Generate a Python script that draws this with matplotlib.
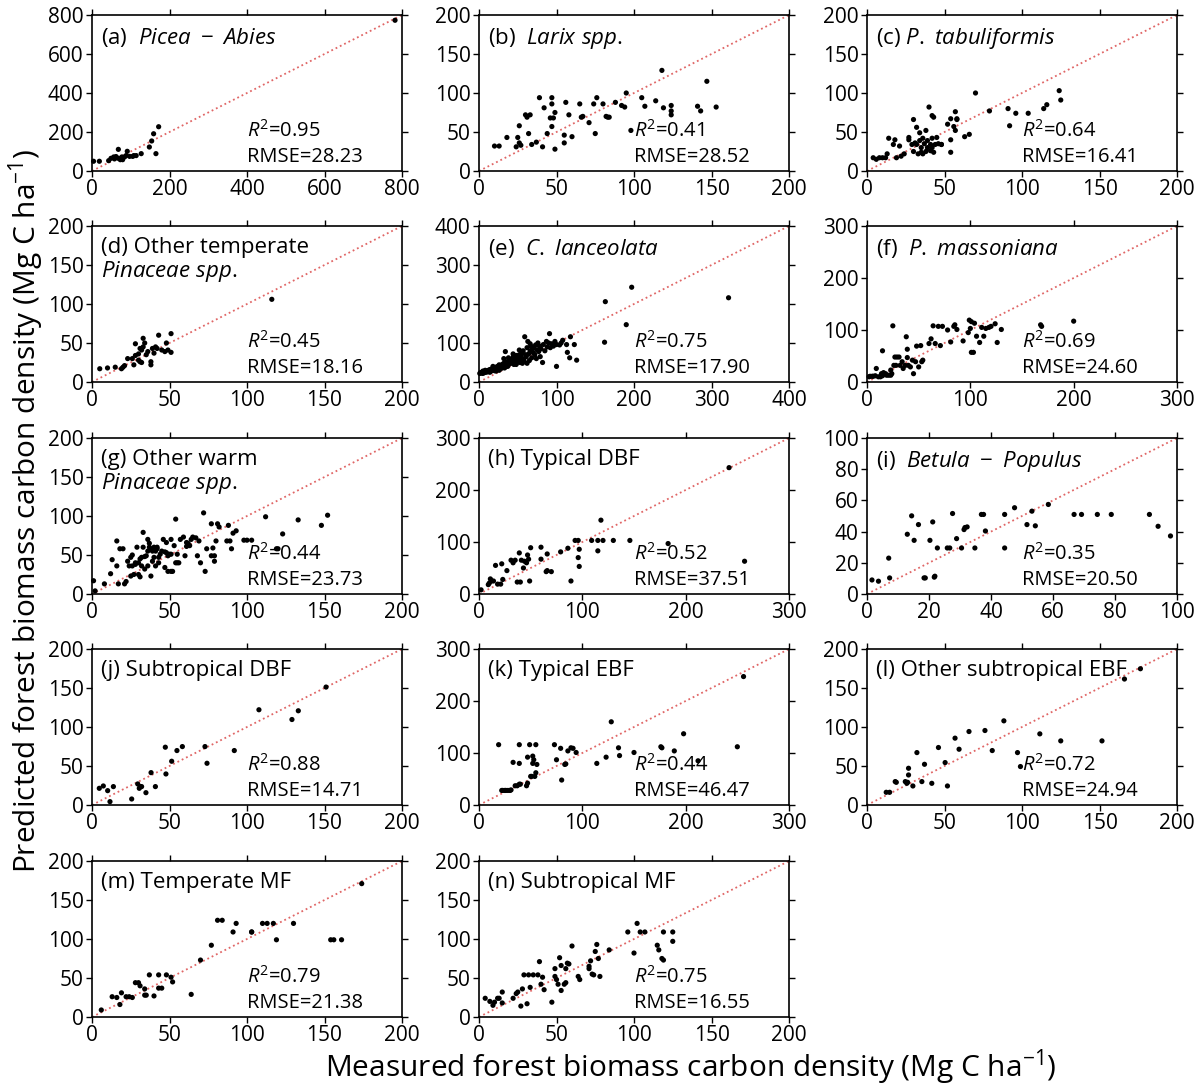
import numpy as np
import matplotlib.pyplot as plt

plt.rcParams['font.family'] = 'Open Sans'
plt.rcParams['mathtext.fontset'] = 'custom'
plt.rcParams['mathtext.rm'] = 'Open Sans'
plt.rcParams['mathtext.it'] = 'Open Sans:italic'

# --- (a) Picea - Abies ---
a_x = [4, 19, 43, 49, 56, 62, 68, 68, 73, 77, 84, 88, 91, 105, 108, 114, 127, 148, 154, 159, 165, 172, 58, 79, 97, 782]
a_y = [50, 50, 53, 65, 72, 74, 65, 111, 58, 72, 72, 79, 101, 75, 79, 79, 89, 123, 154, 191, 89, 227, 62, 58, 75, 773]

# --- (b) Larix spp. ---
b_x = [10, 13, 18, 24, 25, 26, 27, 26, 30, 31, 33, 32, 34, 37, 39, 41, 42, 44, 46, 47, 47, 47, 48, 49, 49,
       55, 55, 56, 58, 60, 65, 66, 67, 71, 74, 75, 76, 80, 82, 83, 84, 88, 92, 94, 95, 98, 105, 107, 114,
       118, 119, 124, 124, 124, 141, 143, 147, 153]
b_y = [32, 32, 43, 31, 43, 36, 33, 58, 72, 69, 72, 48, 34, 37, 94, 31, 81, 48, 68, 86, 94, 57, 68, 28, 75,
       46, 36, 88, 72, 44, 86, 69, 70, 62, 86, 48, 94, 86, 70, 69, 69, 88, 84, 82, 100, 52, 94, 83, 90,
       129, 81, 84, 77, 72, 83, 77, 115, 82]

# --- (c) P. tabuliformis ---
c_x = [4, 6, 8, 10, 12, 13, 14, 17, 18, 19, 21, 22, 24, 27, 27, 29, 30, 30, 31, 32, 32, 33, 34, 34, 35, 35,
       36, 36, 37, 38, 38, 39, 39, 40, 41, 41, 42, 42, 42, 43, 43, 44, 45, 46, 48, 48, 52, 54, 54, 54, 56,
       57, 57, 58, 58, 63, 66, 70, 79, 91, 92, 96, 104, 114, 116, 124, 125]
c_y = [17, 15, 17, 17, 17, 22, 42, 34, 40, 17, 32, 19, 22, 43, 40, 34, 25, 66, 36, 56, 34, 22, 49, 39, 24, 30,
       42, 22, 35, 25, 52, 30, 39, 82, 34, 26, 30, 71, 42, 69, 24, 34, 43, 35, 34, 34, 60, 67, 24, 40, 57,
       76, 52, 66, 67, 44, 47, 100, 77, 80, 58, 74, 74, 80, 85, 103, 91]

# --- (d) Other temperate Pinaceae spp. ---
d_x = [5, 10, 15, 19, 20, 21, 23, 26, 27, 28, 28, 30, 30, 31, 31, 32, 32, 33, 33, 34, 35, 36, 38, 38, 39, 40,
       41, 42, 43, 45, 47, 48, 49, 51, 51, 116]
d_y = [17, 18, 19, 17, 19, 21, 30, 30, 22, 34, 49, 28, 36, 43, 26, 41, 25, 56, 45, 50, 35, 39, 22, 26, 43, 37,
       45, 43, 60, 41, 39, 50, 41, 62, 38, 106]

# --- (e) C. lanceolata ---
e_x = [1, 2, 3, 4, 5, 6, 7, 8, 9, 10, 5, 8,
       11, 12, 13, 14, 15, 16, 17, 18, 19, 20, 14, 18,
       21, 22, 23, 24, 25, 26, 27, 28, 29, 30, 22, 26,
       31, 32, 33, 34, 35, 36, 37, 38, 39, 40, 32, 36, 38,
       41, 42, 43, 44, 45, 46, 47, 48, 49, 50, 44, 48,
       51, 52, 53, 54, 55, 56, 57, 58, 59, 60, 52, 56,
       61, 62, 63, 64, 65, 66, 67, 68, 69, 70, 62, 66,
       71, 72, 73, 74, 75, 76, 77, 78, 79, 80, 82,
       83, 85, 87, 88, 90, 91, 92, 94, 96, 98, 100, 100, 104, 106,
       108, 113, 114, 117, 118, 123, 126, 162, 163, 190, 197, 322]
e_y = [22, 24, 23, 25, 22, 26, 24, 27, 25, 28, 28, 30,
       26, 30, 28, 32, 27, 33, 30, 35, 31, 29, 25, 40,
       34, 38, 32, 40, 36, 30, 42, 38, 35, 45, 28, 44,
       40, 48, 36, 78, 44, 52, 40, 50, 46, 55, 60, 42, 62,
       48, 58, 52, 64, 45, 60, 55, 68, 50, 62, 72, 45,
       58, 70, 50, 66, 75, 60, 80, 55, 116, 70, 82, 48,
       65, 88, 104, 72, 55, 80, 92, 62, 85, 75, 48, 98,
       88, 70, 95, 60, 82, 100, 78, 92, 65, 85, 50,
       96, 80, 104, 90, 100, 124, 88, 98, 92, 104, 40, 96, 95, 100,
       107, 96, 76, 62, 116, 96, 56, 102, 206, 147, 243, 216]

# --- (f) P. massoniana ---
f_x = [2, 3, 5, 6, 8, 9, 11, 13, 14, 15, 15, 16, 18, 19, 21, 23, 23, 24, 25, 26, 27, 28, 29, 31, 32, 34,
       35, 37, 38, 39, 39, 40, 42, 44, 45, 47, 48, 50, 52, 53, 54, 60, 62, 64, 66, 69, 71, 73, 78, 81,
       84, 85, 87, 93, 98, 99, 100, 101, 101, 103, 104, 106, 109, 111, 113, 115, 118, 120, 124, 126,
       130, 168, 169, 200]
f_y = [10, 11, 11, 11, 12, 26, 10, 10, 16, 12, 60, 18, 16, 13, 13, 23, 13, 16, 108, 32, 48, 32, 48, 48, 32,
       39, 26, 32, 87, 63, 47, 32, 29, 42, 16, 39, 69, 29, 70, 39, 42, 74, 83, 108, 74, 107, 70, 107,
       100, 77, 107, 110, 101, 79, 95, 119, 103, 57, 116, 57, 113, 88, 76, 105, 88, 103, 105, 107, 112,
       76, 101, 110, 107, 117]

# --- (g) Other warm Pinaceae spp. ---
g_x = [1, 2, 8, 12, 13, 16, 16, 17, 18, 20,
       21, 22, 23, 24, 25, 25, 26, 26, 27, 28,
       28, 29, 30, 30, 31, 31, 32, 32, 33, 33,
       34, 34, 35, 36, 36, 36, 37, 37, 38, 38,
       39, 39, 40, 40, 41, 41, 42, 42, 43, 43,
       44, 45, 46, 47, 47, 48, 48, 49, 49, 50,
       51, 51, 51, 52, 53, 54, 54, 55, 55, 56,
       57, 59, 60, 61, 61, 62, 63, 64, 65, 67,
       68, 69, 70, 72, 73, 74, 77, 77, 78, 79,
       79, 80, 81, 82, 87, 88, 89, 90, 91, 93,
       98, 100, 103, 112, 119, 120, 123, 133, 148, 152]
g_y = [17, 4, 13, 26, 44, 36, 68, 13, 58, 58,
       13, 16, 42, 36, 23, 47, 36, 50, 25, 40,
       38, 60, 25, 40, 45, 22, 36, 47, 60, 79,
       48, 32, 49, 70, 36, 55, 65, 60, 23, 58,
       42, 55, 60, 47, 36, 55, 58, 60, 40, 47,
       51, 55, 70, 34, 54, 53, 66, 29, 49, 51,
       51, 29, 70, 29, 62, 40, 96, 40, 51, 40,
       70, 73, 49, 61, 66, 65, 62, 70, 73, 72,
       49, 68, 40, 104, 29, 58, 90, 49, 59, 42,
       49, 68, 90, 86, 68, 88, 68, 58, 78, 81,
       69, 69, 69, 99, 58, 58, 77, 95, 88, 101]

# --- (h) Typical DBF ---
h_x = [2, 9, 10, 11, 12, 14, 16, 18, 21, 22, 23, 27, 31, 33, 35, 37, 39, 40, 41, 43, 44, 46, 47, 48, 49,
       50, 60, 60, 65, 66, 66, 70, 79, 86, 89, 93, 96, 96, 97, 97, 109, 115, 115, 118, 120, 130, 146,
       183, 242, 257]
h_y = [8, 18, 21, 29, 25, 25, 55, 19, 19, 58, 28, 45, 65, 60, 65, 23, 79, 23, 65, 50, 63, 60, 75, 67, 25,
       89, 90, 67, 43, 77, 45, 43, 81, 88, 25, 103, 103, 70, 86, 53, 103, 103, 83, 142, 103, 103, 103,
       97, 243, 63]

# --- (i) Betula - Populus ---
i_x = [1.6, 3.7, 7.0, 7.3, 13.0, 14.4, 15.2, 16.6, 18.4, 18.8, 20.3, 21.2, 21.7, 21.9, 22.7, 25.9, 26.7,
       27.6, 28.9, 30.5, 31.3, 31.6, 32.3, 34.8, 36.9, 37.6, 38.2, 44.4, 44.4, 47.6, 51.6, 53.2, 54.3,
       58.5, 66.8, 69.2, 74.3, 78.8, 91.1, 93.9, 97.9]
i_y = [9.0, 8.2, 23.0, 10.3, 38.3, 50.1, 34.4, 44.5, 10.3, 10.3, 34.4, 46.2, 10.8, 11.4, 29.5, 29.5, 29.5,
       51.6, 35.5, 29.5, 41.3, 42.6, 43.0, 29.5, 51.0, 51.0, 40.4, 51.0, 29.5, 55.3, 44.5, 53.1, 43.7,
       57.4, 51.0, 51.0, 51.0, 51.0, 51.0, 43.4, 37.2]

# --- (j) Subtropical DBF ---
j_x = [4.7, 7.3, 10.1, 11.6, 13.8, 25.6, 29.5, 30.5, 31.2, 32.0, 34.8, 38.1, 40.9, 47.3, 47.7, 51.4, 54.8,
       58.3, 72.9, 74.2, 91.8, 107.7, 129.0, 133.1, 151.0]
j_y = [21.4, 24.4, 18.4, 4.3, 23.6, 7.7, 27.0, 21.4, 23.6, 23.6, 15.8, 41.5, 23.6, 74.1, 39.8, 56.1, 69.8,
       74.9, 74.9, 53.5, 69.8, 122.1, 109.6, 120.8, 151.2]

# --- (k) Typical EBF ---
k_x = [19, 22, 23, 25, 26, 28, 30, 31, 33, 35, 37, 39, 39, 39, 40, 46, 47, 47, 49, 50, 51, 52, 52, 53, 54,
       55, 55, 56, 73, 75, 79, 80, 83, 84, 86, 89, 91, 94, 114, 123, 128, 135, 136, 150, 176, 177, 189,
       198, 212, 250, 256]
k_y = [116, 28, 28, 28, 28, 28, 28, 29, 82, 37, 37, 116, 80, 40, 40, 37, 42, 92, 116, 55, 55, 94, 80, 87,
       55, 116, 62, 78, 116, 87, 109, 48, 78, 79, 104, 110, 109, 101, 80, 92, 160, 110, 95, 101, 112, 110,
       104, 137, 85, 112, 247]

# --- (l) Other subtropical EBF ---
l_x = [12.4, 14.6, 18.2, 18.9, 24.7, 25.7, 26.2, 26.8, 26.8, 29.6, 32.2, 35.4, 37.1, 41.8, 46.1, 50.4,
       51.9, 56.8, 59.4, 65.8, 76.1, 80.8, 88.3, 97.1, 99.0, 111.5, 125.0, 151.6, 166.1, 176.4]
l_y = [16.3, 16.3, 30.0, 29.1, 30.0, 27.8, 29.1, 47.1, 38.5, 24.4, 67.2, 30.0, 52.2, 27.8, 73.7, 54.4,
       24.4, 85.7, 71.5, 94.2, 95.5, 69.8, 107.9, 67.2, 49.3, 91.2, 82.2, 82.2, 161.5, 174.7]

# --- (m) Temperate MF ---
m_x = [6, 13, 16, 18, 19, 22, 24, 26, 28, 30, 31, 34, 34, 35, 37, 40, 43, 43, 45, 48,
       51, 52, 64, 70, 77, 81, 84, 91, 93, 103, 103, 110, 113, 117, 119, 130, 154, 156, 161, 174]
m_y = [9, 26, 25, 16, 31, 26, 26, 25, 44, 44, 40, 36, 28, 28, 54, 27, 37, 54, 37, 54,
       51, 45, 29, 73, 92, 124, 124, 109, 120, 109, 109, 120, 120, 120, 99, 120, 99, 99, 99, 171]

# --- (n) Subtropical MF ---
n_x = [4, 7, 9, 10, 12, 13, 15, 15, 22, 24, 25, 27, 28, 29, 31, 32, 33, 35, 38, 39, 40, 41, 42,
       47, 49, 49, 50, 51, 52, 53, 53, 55, 56, 56, 57, 58, 60, 64, 65, 71, 71, 72, 73, 74, 75,
       76, 77, 78, 84, 96, 100, 102, 104, 107, 115, 116, 118, 119, 119, 125, 125]
n_y = [24, 20, 15, 19, 24, 24, 32, 18, 24, 30, 32, 14, 36, 54, 17, 54, 38, 54, 54, 71, 42, 51, 35,
       19, 62, 52, 48, 42, 76, 66, 34, 42, 62, 44, 69, 68, 91, 52, 48, 62, 65, 72, 55, 54, 84,
       93, 75, 52, 86, 109, 82, 120, 109, 109, 92, 86, 75, 73, 109, 109, 97]

labels = [r"(a)  $\mathit{Picea\ -\ Abies}$", r"(b)  $\mathit{Larix\ spp.}$",
          r"(c) $\mathit{P.\ tabuliformis}$",
          "(d) Other temperate\n" + r"$\mathit{Pinaceae\ spp.}$",
          r"(e)  $\mathit{C.\ lanceolata}$", r"(f)  $\mathit{P.\ massoniana}$",
          "(g) Other warm\n" + r"$\mathit{Pinaceae\ spp.}$",
          "(h) Typical DBF", r"(i)  $\mathit{Betula\ -\ Populus}$",
          "(j) Subtropical DBF", "(k) Typical EBF", "(l) Other subtropical EBF",
          "(m) Temperate MF", "(n) Subtropical MF"]
r2 = ["0.95", "0.41", "0.64", "0.45", "0.75", "0.69", "0.44", "0.52", "0.35",
      "0.88", "0.44", "0.72", "0.79", "0.75"]
rmse = ["28.23", "28.52", "16.41", "18.16", "17.90", "24.60", "23.73", "37.51", "20.50",
        "14.71", "46.47", "24.94", "21.38", "16.55"]
axmax = [800, 200, 200, 200, 400, 300, 200, 300, 100, 200, 300, 200, 200, 200]
tickstep = [200, 50, 50, 50, 100, 100, 50, 100, 20, 50, 100, 50, 50, 50]
xs = [a_x, b_x, c_x, d_x, e_x, f_x, g_x, h_x, i_x, j_x, k_x, l_x, m_x, n_x]
ys = [a_y, b_y, c_y, d_y, e_y, f_y, g_y, h_y, i_y, j_y, k_y, l_y, m_y, n_y]

fig = plt.figure(figsize=(12, 10.85), dpi=100)

col_left = [92, 479, 867]
row_top = [15, 226, 438, 649, 861]
W, H = 310, 156

for k in range(14):
    r, c = divmod(k, 3)
    left = col_left[c] / 1200
    bottom = 1 - (row_top[r] + H) / 1085
    ax = fig.add_axes([left, bottom, W / 1200, H / 1085])
    mx = axmax[k]
    ticks = np.arange(0, mx + 1, tickstep[k])

    ax.plot([0, mx], [0, mx], ':', color='#e06666', lw=1.3, zorder=1)
    ax.scatter(xs[k], ys[k], s=14, color='black', edgecolors='none', zorder=3, clip_on=False)

    ax.set_xlim(0, mx)
    ax.set_ylim(0, mx)
    ax.set_xticks(ticks)
    ax.set_yticks(ticks)
    ax.set_xticklabels([f"{t:g}" for t in ticks])
    ax.set_yticklabels([f"{t:g}" for t in ticks])
    ax.tick_params(direction='out', length=4, width=1, top=True, right=True,
                   labelsize=15, pad=2)
    for sp in ax.spines.values():
        sp.set_linewidth(1.2)

    ax.text(0.03, 0.93, labels[k], transform=ax.transAxes, fontsize=16,
            va='top', ha='left', linespacing=1.05)
    ax.text(0.5, 0.26, r"$R^2$=" + r2[k], transform=ax.transAxes, fontsize=14.5,
            va='center', ha='left')
    ax.text(0.5, 0.09, "RMSE=" + rmse[k], transform=ax.transAxes, fontsize=14.5,
            va='center', ha='left')

fig.text(0.576, 0.016, r"Measured forest biomass carbon density (Mg C ha$^{-1}$)",
         ha='center', va='center', fontsize=21.5)
fig.text(0.022, 0.529, r"Predicted forest biomass carbon density (Mg C ha$^{-1}$)",
         ha='center', va='center', rotation=90, fontsize=21.5)

fig.savefig('out.png', dpi=100)
